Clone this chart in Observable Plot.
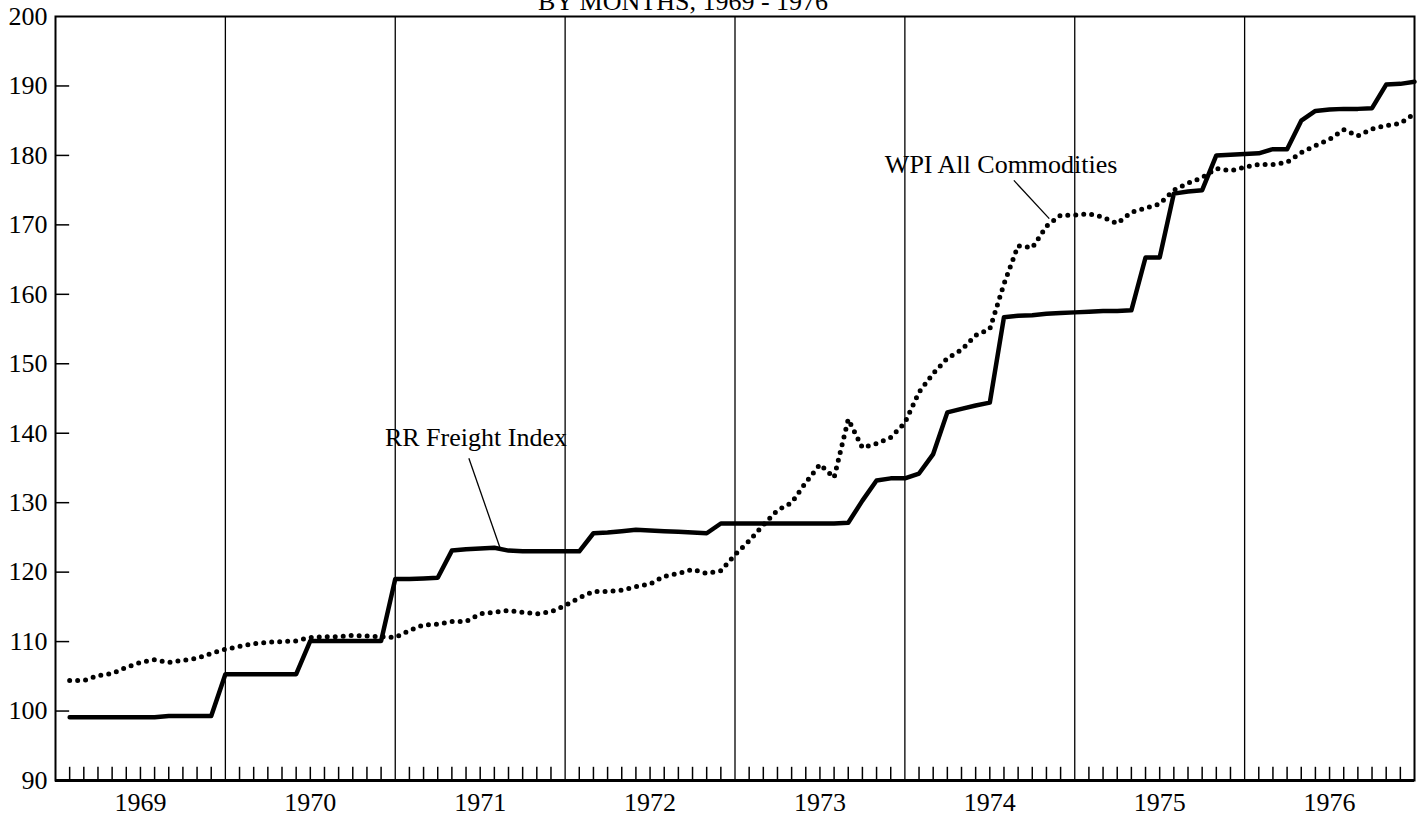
<!DOCTYPE html>
<html><head><meta charset="utf-8">
<script src="https://cdn.jsdelivr.net/npm/d3@7"></script>
<script src="https://cdn.jsdelivr.net/npm/@observablehq/plot@0.6"></script>
<style>html,body{margin:0;padding:0;background:#fff;overflow:hidden}</style>
</head><body><div id="chart"></div>
<script>
// ---- data (monthly, Jan 1969 .. Dec 1976) ----
const years = [1969, 1970, 1971, 1972, 1973, 1974, 1975, 1976];
const rrFreight = [
  99.1, 99.1, 99.1, 99.1, 99.1, 99.1, 99.1, 99.3, 99.3, 99.3, 99.3, 105.3,
  105.3, 105.3, 105.3, 105.3, 105.3, 110.1, 110.1, 110.1, 110.1, 110.1, 110.1, 119.0,
  119.0, 119.1, 119.2, 123.1, 123.3, 123.4, 123.5, 123.1, 123.0, 123.0, 123.0, 123.0,
  123.0, 125.6, 125.7, 125.9, 126.1, 126.0, 125.9, 125.8, 125.7, 125.6, 127.0, 127.0,
  127.0, 127.0, 127.0, 127.0, 127.0, 127.0, 127.0, 127.1, 130.3, 133.2, 133.5, 133.5,
  134.2, 137.0, 143.0, 143.5, 144.0, 144.4, 156.7, 156.9, 157.0, 157.2, 157.3, 157.4,
  157.5, 157.6, 157.6, 157.7, 165.3, 165.3, 174.5, 174.8, 175.0, 180.0, 180.1, 180.2,
  180.3, 180.9, 180.9, 185.0, 186.4, 186.6, 186.7, 186.7, 186.8, 190.2, 190.3, 190.6
];
const wpiAll = [
  104.4, 104.4, 105.1, 105.4, 106.3, 107.0, 107.4, 107.0, 107.3, 107.6, 108.3, 108.9,
  109.3, 109.7, 109.9, 110.0, 110.1, 110.6, 110.7, 110.7, 110.9, 110.8, 110.7, 110.6,
  111.6, 112.4, 112.5, 112.9, 112.9, 114.0, 114.2, 114.5, 114.2, 114.0, 114.3, 115.2,
  116.3, 117.2, 117.2, 117.4, 117.9, 118.3, 119.4, 119.8, 120.4, 119.8, 120.2, 122.5,
  124.5, 126.8, 128.9, 130.0, 132.9, 135.5, 133.6, 142.0, 137.9, 138.5, 139.4, 141.5,
  145.9, 148.6, 150.8, 152.0, 154.1, 155.0, 161.5, 167.0, 166.7, 169.8, 171.4, 171.4,
  171.6, 171.1, 170.2, 171.8, 172.4, 173.0, 175.0, 176.0, 176.8, 178.1, 177.8, 178.3,
  178.7, 178.7, 179.0, 180.4, 181.4, 182.3, 183.7, 182.8, 183.8, 184.3, 184.6, 186.0
];
const yTicks = [90, 100, 110, 120, 130, 140, 150, 160, 170, 180, 190, 200];
const titleText = ["BY MONTHS, 1969 - 1976"];
const seriesLabels = [
  {text: "RR Freight Index", m: 29.7, v: 139.4},
  {text: "WPI All Commodities", m: 66.8, v: 178.6}
];
const leaders = [
  {m1: 29.2, v1: 136.4, m2: 31.4, v2: 123.5},
  {m1: 67.7, v1: 176.4, m2: 70.2, v2: 170.9}
];

// ---- derived tables ----
const rrRows = rrFreight.map((v, i) => ({m: i + 1, v}));
const wpiRows = wpiAll.map((v, i) => ({m: i + 1, v}));
const yearStarts = years.slice(1).map((y, k) => (k + 1) * 12);
const yearMids = years.map((y, k) => k * 12 + 6);
const monthTicks = d3.range(1, 96).filter(m => m % 12 !== 0);

const chart = Plot.plot({
  width: 1426,
  height: 818,
  marginLeft: 55,
  marginRight: 12,
  marginTop: 16,
  marginBottom: 38,
  x: {domain: [0, 96]},
  y: {domain: [90, 200]},
  style: {fontFamily: "'Liberation Serif', serif", fontSize: "26px", background: "white", color: "black", overflow: "visible"},
  marks: [
    Plot.axisY(yTicks, {tickSize: 0, tickPadding: 8, label: null, fontSize: 26}),
    Plot.axisX(yearMids, {tickSize: 0, tickPadding: 12, label: null, fontSize: 26,
      tickFormat: m => String(years[(m - 6) / 12])}),
    Plot.ruleX(yearStarts, {x: d => d, strokeWidth: 1.3}),
    Plot.ruleX(monthTicks, {x: d => d, y1: 90, y2: 91.9, strokeWidth: 1.5}),
    Plot.ruleY(yTicks.slice(1, -1), {y: d => d, x1: 0, x2: 1, strokeWidth: 1.5}),
    Plot.frame({strokeWidth: 2}),
    Plot.ruleY([90], {strokeWidth: 3}),
    Plot.line(rrRows, {x: "m", y: "v", stroke: "black", strokeWidth: 4.5, strokeLinejoin: "round"}),
    Plot.line(wpiRows, {x: "m", y: "v", stroke: "black", strokeWidth: 5, strokeDasharray: "0 8", strokeLinecap: "round"}),
    Plot.link(leaders, {x1: "m1", y1: "v1", x2: "m2", y2: "v2", stroke: "black", strokeWidth: 1.3}),
    Plot.text(seriesLabels, {x: "m", y: "v", text: "text", fontSize: 26, fill: "black", textAnchor: "middle", lineAnchor: "middle"}),
    Plot.text(titleText, {text: d => d, frameAnchor: "top", dx: -52, dy: -7, lineAnchor: "bottom", fontSize: 26, fill: "black"})
  ]
});
document.getElementById("chart").appendChild(chart);
</script>
</body></html>
